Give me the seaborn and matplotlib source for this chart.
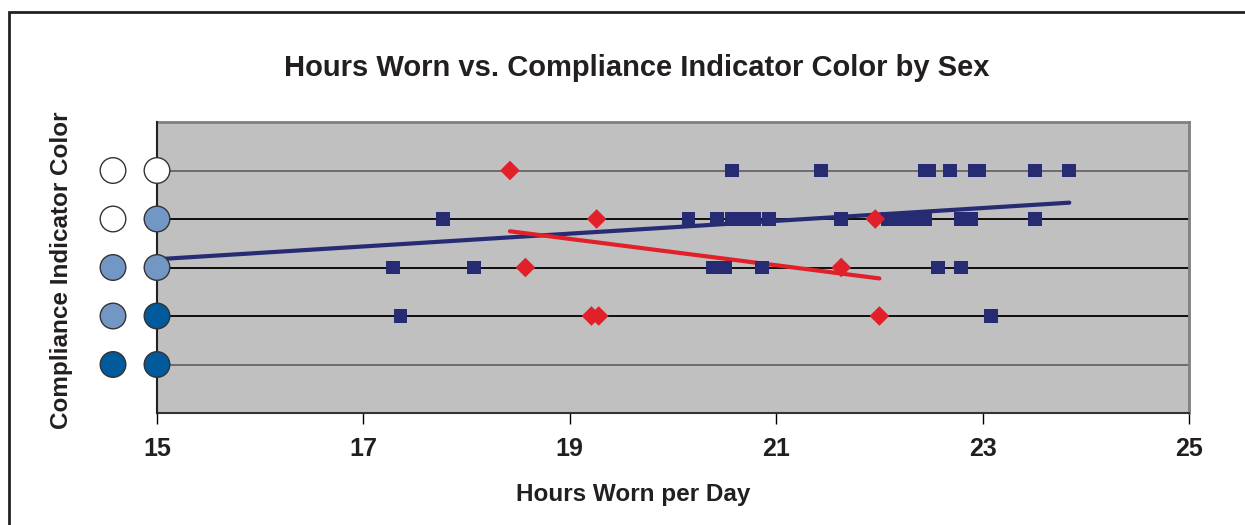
import numpy as np
import pandas as pd
import seaborn as sns
import matplotlib.pyplot as plt
from matplotlib.transforms import blended_transform_factory
from matplotlib.patches import Rectangle

# hours worn per day, grouped by compliance indicator level (1 = bottom, 5 = top)
male_hours = [20.57, 21.43, 22.44, 22.48, 22.68, 22.93, 22.97, 23.51, 23.84,
              17.77, 20.15, 20.43, 20.57, 20.65, 20.72, 20.79, 20.93, 21.63,
              22.08, 22.22, 22.26, 22.39, 22.44, 22.79, 22.89, 23.51,
              17.29, 18.07, 20.39, 20.50, 20.86, 22.57, 22.79,
              17.36, 23.08]
male_level = [5] * 9 + [4] * 17 + [3] * 7 + [2] * 2

female_hours = [18.42, 19.26, 21.96, 18.57, 21.63, 19.21, 19.28, 22.00]
female_level = [5, 4, 4, 3, 3, 2, 2, 2]

# trend lines: (intercept, slope)
male_trend = (1.19, 0.132)
female_trend = (8.752, -0.2717)

# indicator lights shown beside each level (left light, right light)
levels = [5, 4, 3, 2, 1]
light_left = ["white", "white", "light", "light", "dark"]
light_right = ["white", "light", "light", "dark", "dark"]
light_colors = {"white": "#FFFFFF", "light": "#7397C5", "dark": "#005A9C"}

x_ticks = [15, 17, 19, 21, 23, 25]

df = pd.DataFrame({
    "hours": male_hours + female_hours,
    "level": male_level + female_level,
    "sex": ["Male"] * len(male_hours) + ["Female"] * len(female_hours),
})

navy = "#262B73"
red = "#E2202A"
ink = "#231F20"

sns.set_style("white")
plt.rcParams["font.family"] = ["Liberation Sans", "DejaVu Sans"]
plt.rcParams["text.color"] = ink
plt.rcParams["xtick.color"] = ink

fig = plt.figure(figsize=(12.45, 5.25), dpi=100)
ax = fig.add_axes([157 / 1245, 1 - 413 / 525, 1032 / 1245, 291 / 525])
ax.set_facecolor("#C0C0C0")

# horizontal gridlines at each level
for lv in levels:
    col = "#666666" if lv in (1, 5) else "black"
    ax.axhline(lv, color=col, lw=1.3, zorder=1)

# trend lines
mx = np.array([15, max(male_hours)])
ax.plot(mx, male_trend[0] + male_trend[1] * mx, color=navy, lw=3, zorder=2)
fx = np.array([min(female_hours), max(female_hours)])
ax.plot(fx, female_trend[0] + female_trend[1] * fx, color=red, lw=3, zorder=2)

sns.scatterplot(data=df, x="hours", y="level", hue="sex", style="sex",
                markers={"Male": "s", "Female": "D"},
                palette={"Male": navy, "Female": red},
                s=100, linewidth=0, legend=False, ax=ax, zorder=3)

# indicator lights
trans = blended_transform_factory(ax.transAxes, ax.transData)
ax.scatter([-44 / 1032] * len(levels), levels, s=340,
           c=[light_colors[c] for c in light_left], edgecolors="#333333",
           linewidths=1, transform=trans, clip_on=False, zorder=5)
ax.scatter([0] * len(levels), levels, s=340,
           c=[light_colors[c] for c in light_right], edgecolors="#333333",
           linewidths=1, transform=trans, clip_on=False, zorder=5)

ax.set_xlim(15, 25)
ax.set_ylim(0, 6)
ax.set_xticks(x_ticks)
ax.set_xticklabels([str(t) for t in x_ticks], fontsize=18, fontweight="bold")
ax.set_yticks([])
ax.tick_params(axis="x", direction="out", length=8, width=1, color="black",
               bottom=True, pad=9)

for side in ("top", "right"):
    ax.spines[side].set_color("#808080")
    ax.spines[side].set_linewidth(2)
ax.spines["left"].set_color("#222222")
ax.spines["left"].set_linewidth(1.5)
ax.spines["left"].set_zorder(4)
ax.spines["bottom"].set_color("#333333")
ax.spines["bottom"].set_linewidth(1.5)

ax.set_xlabel("")
ax.set_ylabel("")
fig.text(633 / 1245, 1 - 494 / 525, "Hours Worn per Day",
         ha="center", va="center", fontsize=17.5, fontweight="bold")
fig.text(62 / 1245, 1 - 270 / 525, "Compliance Indicator Color", rotation=90,
         ha="center", va="center", fontsize=17.5, fontweight="bold")
fig.text(637 / 1245, 1 - 68 / 525, "Hours Worn vs. Compliance Indicator Color by Sex",
         ha="center", va="center", fontsize=21, fontweight="bold")

# outer chart frame (partly cropped in the original)
fig.patches.append(Rectangle((9 / 1245, -0.1), 1.2, 1 - 12 / 525 + 0.1,
                             transform=fig.transFigure, fill=False,
                             edgecolor="#222222", lw=2))

fig.savefig("out.png", dpi=100)
